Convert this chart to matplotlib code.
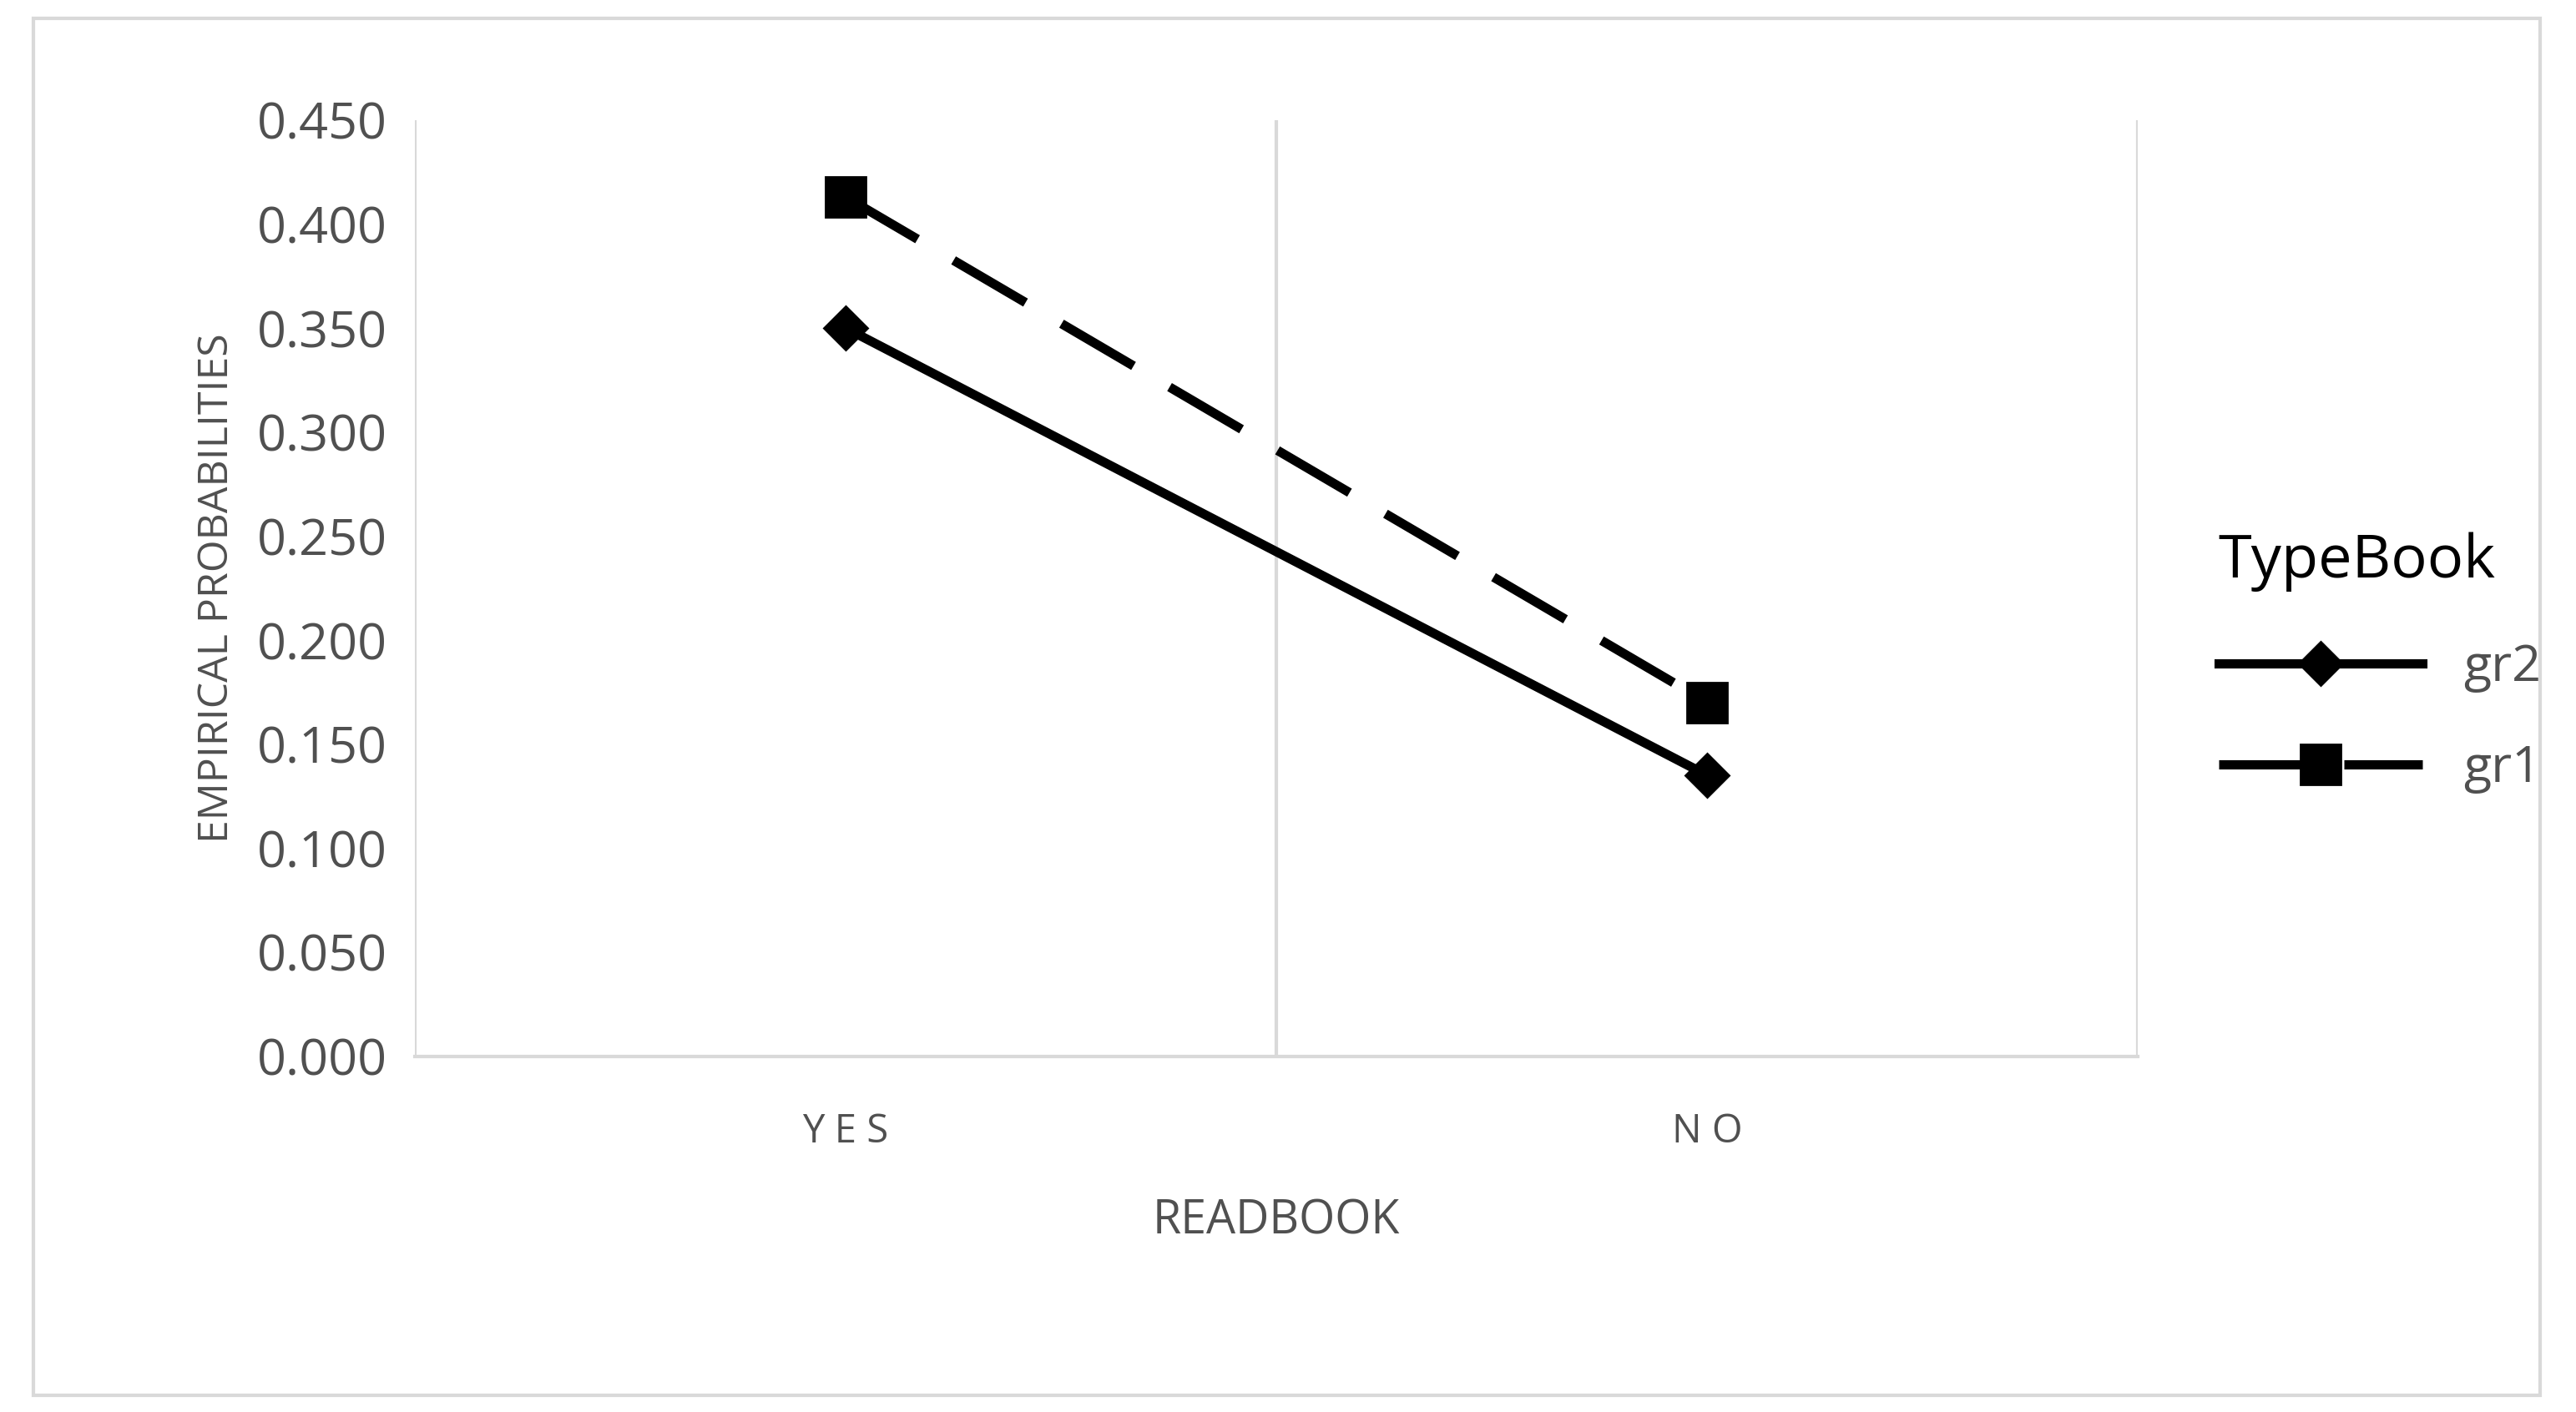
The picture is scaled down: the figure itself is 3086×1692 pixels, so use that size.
import matplotlib.pyplot as plt
from matplotlib.patches import Rectangle

plt.rcParams["font.family"] = ["Open Sans", "DejaVu Sans"]

categories = ["YES", "NO"]
gr2_values = [0.350, 0.135]
gr1_values = [0.413, 0.170]
y_ticks = [0.0, 0.05, 0.10, 0.15, 0.20, 0.25, 0.30, 0.35, 0.40, 0.45]

fig = plt.figure(figsize=(15.43, 8.46), dpi=200)
ax = fig.add_axes([0.161, 0.252, 0.669, 0.663])

x = [0.5, 1.5]
ax.plot(x, gr2_values, color="black", lw=4, marker="D", markersize=13, label="gr2")
ax.plot(x, gr1_values, color="black", lw=4, marker="s", markersize=17,
        dashes=(9, 4.5), label="gr1")

ax.set_xlim(0, 2)
ax.set_ylim(0, 0.45)
ax.set_yticks(y_ticks)
ax.set_yticklabels([f"{v:.3f}" for v in y_ticks], fontsize=22, color="#505050")
ax.set_xticks(x)
ax.set_xticklabels(["Y E S", "N O"], fontsize=17, color="#505050")
ax.tick_params(length=0, pad=12)
ax.tick_params(axis="x", pad=24)

for s in ["top", "right", "left"]:
    ax.spines[s].set_visible(False)
ax.spines["bottom"].set_color("#d9d9d9")
ax.spines["bottom"].set_linewidth(1.5)
for gx in [0, 1, 2]:
    ax.axvline(gx, color="#d9d9d9", lw=1.5, zorder=0)

ax.set_xlabel("READBOOK", fontsize=20, color="#505050", labelpad=20)
ax.set_ylabel("EMPIRICAL PROBABILITIES", fontsize=18, color="#505050", labelpad=8)

leg = ax.legend(loc="center left", bbox_to_anchor=(1.02, 0.42), frameon=False,
                title="TypeBook", fontsize=22, title_fontsize=26,
                handlelength=4.0, labelspacing=1.0, labelcolor="#505050")
leg._legend_box.align = "left"

fig.patches.append(Rectangle((0.013, 0.012), 0.973, 0.975, transform=fig.transFigure,
                             fill=False, edgecolor="#d9d9d9", lw=1.5))

fig.savefig("out.png", dpi=200)
